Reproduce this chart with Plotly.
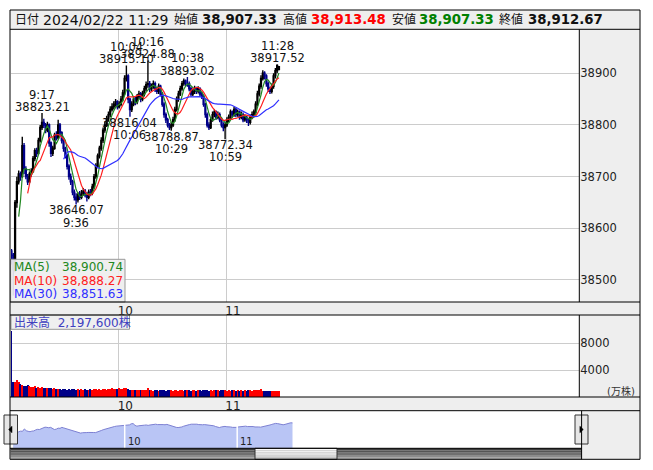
import plotly.graph_objects as go
import pandas as pd

W, H = 653, 470

# ---------------- data ----------------
session_start = "9:00"
n_bars = 150
times = [f"{9 + m // 60}:{m % 60:02d}" for m in range(n_bars)]

opens = [38556, 38548, 38520, 38650, 38690, 38705, 38700, 38760, 38715, 38700,
         38690, 38705, 38710, 38735, 38750, 38745, 38770, 38795, 38805, 38800,
         38790, 38800, 38765, 38745, 38755, 38780, 38775, 38800, 38785, 38770,
         38755, 38740, 38720, 38700, 38690, 38670, 38660, 38655, 38665, 38660,
         38668, 38672, 38665, 38660, 38670, 38668, 38680, 38700, 38720, 38740,
         38755, 38770, 38790, 38800, 38812, 38820, 38830, 38835, 38840, 38845,
         38835, 38840, 38850, 38862, 38890, 38895, 38850, 38830, 38840, 38850,
         38845, 38855, 38860, 38850, 38860, 38870, 38878, 38880, 38870, 38875,
         38880, 38870, 38865, 38875, 38860, 38840, 38820, 38810, 38800, 38795,
         38800, 38810, 38830, 38850, 38860, 38870, 38880, 38885, 38880, 38880,
         38870, 38860, 38865, 38870, 38865, 38870, 38860, 38855, 38840, 38820,
         38800, 38795, 38810, 38820, 38825, 38815, 38820, 38810, 38800, 38795,
         38800, 38810, 38815, 38825, 38820, 38830, 38820, 38825, 38815, 38820,
         38810, 38815, 38810, 38805, 38815, 38820, 38825, 38840, 38860, 38875,
         38890, 38900, 38895, 38880, 38870, 38865, 38875, 38895, 38905, 38907.33]

highs = [38560, 38552, 38655, 38700, 38712, 38710, 38777, 38765, 38720, 38705,
         38710, 38716, 38740, 38755, 38756, 38775, 38800, 38823.21, 38812, 38804,
         38806, 38803, 38768, 38760, 38785, 38788, 38810, 38804, 38788, 38774,
         38758, 38744, 38724, 38706, 38694, 38675, 38668, 38670, 38672, 38674,
         38678, 38676, 38670, 38675, 38676, 38686, 38705, 38726, 38745, 38760,
         38776, 38795, 38806, 38818, 38826, 38836, 38842, 38846, 38850, 38848,
         38846, 38856, 38868, 38896, 38915.10, 38898, 38852, 38846, 38856, 38854,
         38860, 38866, 38864, 38866, 38876, 38884, 38924.88, 38885, 38880, 38886,
         38884, 38874, 38880, 38878, 38864, 38844, 38824, 38814, 38804, 38806,
         38816, 38835, 38855, 38866, 38876, 38885, 38890, 38888, 38893.02, 38884,
         38874, 38870, 38876, 38874, 38875, 38873, 38864, 38858, 38843, 38824,
         38805, 38815, 38826, 38830, 38828, 38826, 38824, 38814, 38805, 38806,
         38815, 38820, 38830, 38828, 38835, 38834, 38830, 38828, 38826, 38824,
         38820, 38818, 38814, 38820, 38826, 38830, 38846, 38866, 38880, 38896,
         38906, 38904, 38898, 38884, 38874, 38880, 38900, 38910, 38917.52, 38913.48]

lows = [38530, 38470, 38515, 38640, 38685, 38692, 38698, 38705, 38695, 38684,
        38688, 38700, 38708, 38730, 38738, 38742, 38766, 38790, 38794, 38784,
        38786, 38758, 38738, 38740, 38752, 38770, 38772, 38778, 38764, 38748,
        38735, 38714, 38694, 38684, 38664, 38654, 38646.07, 38650, 38655, 38656,
        38663, 38660, 38652, 38656, 38662, 38664, 38676, 38696, 38716, 38735,
        38750, 38765, 38785, 38796, 38806, 38815, 38826, 38830, 38835, 38830,
        38832, 38836, 38846, 38858, 38884, 38842, 38816.04, 38825, 38836, 38838,
        38840, 38850, 38844, 38846, 38855, 38865, 38872, 38864, 38865, 38870,
        38864, 38860, 38860, 38855, 38835, 38814, 38804, 38795, 38790, 38788.87,
        38796, 38806, 38826, 38845, 38856, 38866, 38876, 38875, 38874, 38865,
        38855, 38856, 38860, 38860, 38861, 38855, 38850, 38835, 38814, 38795,
        38790, 38792, 38806, 38815, 38810, 38811, 38805, 38795, 38788, 38772.34,
        38796, 38805, 38810, 38814, 38816, 38815, 38816, 38810, 38811, 38805,
        38806, 38804, 38798, 38801, 38811, 38816, 38821, 38836, 38855, 38870,
        38886, 38888, 38874, 38864, 38860, 38861, 38870, 38890, 38900, 38907.33]

closes = [38548, 38520, 38650, 38690, 38705, 38700, 38760, 38715, 38700, 38690,
          38705, 38710, 38735, 38750, 38745, 38770, 38795, 38805, 38800, 38790,
          38800, 38765, 38745, 38755, 38780, 38775, 38800, 38785, 38770, 38755,
          38740, 38720, 38700, 38690, 38670, 38660, 38655, 38665, 38660, 38668,
          38672, 38665, 38660, 38670, 38668, 38680, 38700, 38720, 38740, 38755,
          38770, 38790, 38800, 38812, 38820, 38830, 38835, 38840, 38845, 38835,
          38840, 38850, 38862, 38890, 38895, 38850, 38830, 38840, 38850, 38845,
          38855, 38860, 38850, 38860, 38870, 38878, 38880, 38870, 38875, 38880,
          38870, 38865, 38875, 38860, 38840, 38820, 38810, 38800, 38795, 38800,
          38810, 38830, 38850, 38860, 38870, 38880, 38885, 38880, 38880, 38870,
          38860, 38865, 38870, 38865, 38870, 38860, 38855, 38840, 38820, 38800,
          38795, 38810, 38820, 38825, 38815, 38820, 38810, 38800, 38795, 38800,
          38810, 38815, 38825, 38820, 38830, 38820, 38825, 38815, 38820, 38810,
          38815, 38810, 38805, 38815, 38820, 38825, 38840, 38860, 38875, 38890,
          38900, 38895, 38880, 38870, 38865, 38875, 38895, 38905, 38915, 38912.67]

# volume in 万株
volumes = [9830, 2280, 2280, 2500, 2300, 1900, 1800, 1700, 1600, 1750,
           1600, 1500, 1450, 1600, 1400, 1500, 1350, 1450, 1350, 1300,
           1400, 1300, 1350, 1250, 1300, 1250, 1150, 1200, 1100, 1150,
           1200, 1100, 1150, 1100, 1200, 1150, 1100, 1150, 1100, 1200,
           1100, 1150, 1100, 1100, 1150, 1100, 1200, 1150, 1100, 1150,
           1100, 1200, 1150, 1100, 1150, 1200, 1300, 1250, 1200, 1250,
           1300, 1200, 1250, 1350, 1300, 1200, 1100, 1050, 1000, 1100,
           1050, 1000, 1050, 1100, 1000, 1050, 1350, 1000, 1050, 950,
           1000, 1050, 950, 1000, 1050, 1000, 950, 1000, 1050, 1000,
           950, 1000, 1000, 950, 1050, 1000, 950, 1000, 1050, 1000,
           950, 1000, 1050, 950, 1000, 1000, 950, 1000, 1050, 1000,
           950, 1000, 950, 1000, 1050, 1000, 950, 1000, 1050, 1000,
           950, 1000, 950, 1000, 1050, 950, 1000, 950, 1000, 950,
           1000, 950, 1000, 1050, 950, 1000, 1000, 1050, 1100, 1200,
           950, 900, 950, 900, 850, 900, 950, 900, 850, 830]

header_date = "2024/02/22 11:29"
ma_periods = [5, 10, 30]
ma_last = [38900.74, 38888.27, 38851.63]
last_volume_shares = 2197600
high_marks = [17, 64, 76, 98, 148]   # bars whose high is labelled
low_marks = [36, 66, 89, 119]        # bars whose low is labelled

price_ticks = [38500, 38600, 38700, 38800, 38900]
volume_ticks = [4000, 8000]
hour_ticks = ["10", "11"]

# ---------------- styling helpers ----------------
FONT = "DejaVu Sans, Noto Sans CJK JP"
GRAY = "#eeeeee"
GRID = "#cccccc"
UP = "#000000"
DOWN = "#000088"
MA_COLORS = ["#228822", "#ff2020", "#3030ff"]


def fx(px):
    return px / W


def fy(py):
    return 1 - py / H


def to_min(t):
    h, m = t.split(":")
    return int(h) * 60 + int(m)


t0 = to_min(session_start)
xs = [to_min(t) - t0 + 0.5 for t in times]
hour_vals = [(int(h) * 60) - t0 for h in hour_ticks]

s = pd.Series(closes)
mas = [s.rolling(p).mean() for p in ma_periods]

fig = go.Figure()

fig.add_trace(go.Candlestick(
    x=xs, open=opens, high=highs, low=lows, close=closes,
    increasing=dict(line=dict(color=UP, width=1.4), fillcolor=UP),
    decreasing=dict(line=dict(color=DOWN, width=1.4), fillcolor=DOWN),
    whiskerwidth=0, xaxis="x", yaxis="y", showlegend=False, hoverinfo="skip"))

for p, ma, c in zip(ma_periods, mas, MA_COLORS):
    fig.add_trace(go.Scatter(x=xs, y=ma, mode="lines", line=dict(color=c, width=1.2),
                             xaxis="x", yaxis="y", showlegend=False, hoverinfo="skip"))

vcolors = ["#ff0000" if c >= o else DOWN for o, c in zip(opens, closes)]
fig.add_trace(go.Bar(x=xs, y=volumes, marker=dict(color=vcolors, line=dict(width=0)),
                     width=0.72, xaxis="x2", yaxis="y2", showlegend=False, hoverinfo="skip"))

fig.add_trace(go.Scatter(x=xs, y=closes, mode="lines", fill="tozeroy",
                         fillcolor="#b9c5f5", line=dict(color="#7d80d2", width=1),
                         xaxis="x3", yaxis="y3", showlegend=False, hoverinfo="skip"))

xr = [(11 - 10.6) / 1.795, (579.3 - 10.6) / 1.795]
common_x = dict(range=xr, tickvals=hour_vals, ticktext=hour_ticks, showgrid=True,
                gridcolor=GRID, gridwidth=1, zeroline=False, showline=False, ticks="",
                tickfont=dict(family=FONT, size=12, color="#222"), ticklabelshift=7,
                fixedrange=True)

shapes = []


def rect(x0, y0, x1, y1, fill=None, line=None, width=1, layer="below"):
    shapes.append(dict(type="rect", xref="paper", yref="paper",
                       x0=fx(x0), x1=fx(x1), y0=fy(y1), y1=fy(y0),
                       fillcolor=fill if fill else "rgba(0,0,0,0)",
                       line=dict(color=line if line else "rgba(0,0,0,0)", width=width if line else 0),
                       layer=layer))


def hline(y, x0, x1, color="#000", width=1):
    shapes.append(dict(type="line", xref="paper", yref="paper", x0=fx(x0), x1=fx(x1),
                       y0=fy(y), y1=fy(y), line=dict(color=color, width=width), layer="above"))


def vline(x, y0, y1, color="#000", width=1):
    shapes.append(dict(type="line", xref="paper", yref="paper", x0=fx(x), x1=fx(x),
                       y0=fy(y0), y1=fy(y1), line=dict(color=color, width=width), layer="above"))


# gray panels
rect(10, 10, 640, 29.3, GRAY)
rect(579.3, 29.3, 640, 302, GRAY)
rect(10, 302, 640, 315, GRAY)
rect(579.3, 315, 640, 397, GRAY)
rect(10, 397, 640, 410.7, GRAY)
rect(581.6, 410.7, 640, 459.3, GRAY)

# scrollbar
bands = ["#3c3c3c", "#555555", "#707070", "#8c8c8c", "#a8a8a8"]
bh = (459.3 - 448.3) / len(bands)
for k, c in enumerate(bands):
    rect(10.5, 448.3 + k * bh, 581.6, 448.3 + (k + 1) * bh, c)
thumb = ["#fafafa", "#efefef", "#e2e2e2", "#d4d4d4", "#c6c6c6"]
for k, c in enumerate(thumb):
    rect(255, 448.3 + k * bh, 337, 448.3 + (k + 1) * bh, c)
rect(255, 448.3, 337, 459.3, None, "#333", 1, "above")

# overlay boxes
rect(10.6, 259.3, 125, 302, "rgba(238,238,238,0.92)", "#999999", 1, "above")
rect(11, 315, 129.5, 329.3, "rgba(238,238,238,0.92)", "#999999", 1, "above")

# nav buttons
rect(4, 415, 17.5, 444, "#e6e6e6", "#333333", 1, "above")
rect(575, 415, 588, 444, "#e6e6e6", "#333333", 1, "above")


def tri(pts):
    d = "M " + " L ".join(f"{fx(a):.5f},{fy(b):.5f}" for a, b in pts) + " Z"
    shapes.append(dict(type="path", xref="paper", yref="paper", path=d,
                       fillcolor="#000", line=dict(color="#000", width=0.5), layer="above"))


tri([(8.6, 429.5), (12, 426.2), (12, 432.8)])
tri([(583.3, 429.5), (579.9, 426.2), (579.9, 432.8)])

# nav separators at the hours
for hv in hour_vals:
    shapes.append(dict(type="line", xref="x3", yref="y3", x0=hv, x1=hv, y0=38272, y1=39220,
                       line=dict(color="white", width=1.5), layer="above"))

# frame lines
hline(29.3, 10, 640)
hline(302, 10, 640)
hline(315, 10, 640)
hline(397, 10, 640)
hline(410.7, 10, 640)
hline(448.3, 10, 581.6)
vline(579.3, 29.3, 302)
vline(579.3, 315, 397)
vline(581.6, 410.7, 459.3)
rect(10, 10, 640, 459.3, None, "#000000", 1, "above")

ann = []


def text(x, y, t, size=12, color="#111", xanchor="left", yanchor="middle", bold=False,
         xref="paper", **kw):
    ann.append(dict(x=fx(x) if xref == "paper" else x, y=fy(y), xref=xref, yref="paper",
                    text=f"<b>{t}</b>" if bold else t, showarrow=False,
                    xanchor=xanchor, yanchor=yanchor,
                    font=dict(family=FONT, size=size, color=color), **kw))


# header
hy = 19.7
text(12.5, hy, "日付", 12)
text(41, hy, header_date, 14)
text(171.5, hy, "始値", 12)
text(200, hy, f"{opens[-1]:,.2f}", 13.3, bold=True)
text(280.5, hy, "高値", 12)
text(309, hy, f"{highs[-1]:,.2f}", 13.3, "#ff0000", bold=True)
text(389.5, hy, "安値", 12)
text(417, hy, f"{lows[-1]:,.2f}", 13.3, "#008000", bold=True)
text(497, hy, "終値", 12)
text(525.5, hy, f"{closes[-1]:,.2f}", 13.3, bold=True)

# MA legend
for k, (p, v, c) in enumerate(zip(ma_periods, ma_last, MA_COLORS)):
    yy = 266.7 + k * 13.8
    text(11.5, yy, f"MA({p})", 12, c)
    text(124.5, yy, f"{v:,.2f}", 12, c, xanchor="right")

# volume label
text(12, 322.3, f"出来高  {last_volume_shares:,}株", 12, "#4040c0")
text(637, 390.5, "(万株)", 10, "#333", xanchor="right")

# nav hour labels
for hv, hl in zip(hour_vals, hour_ticks):
    ann.append(dict(x=hv, y=fy(441), xref="x3", yref="paper", text=hl, showarrow=False,
                    xanchor="left", yanchor="middle", xshift=1,
                    font=dict(family=FONT, size=10, color="#222")))

# high / low labels
for i in high_marks:
    for txt, sh in [(f"{highs[i]:.2f}", 6.2), (times[i], 18.4)]:
        ann.append(dict(x=xs[i], y=highs[i], xref="x", yref="y", text=txt, showarrow=False,
                        xanchor="center", yanchor="middle", yshift=sh,
                        font=dict(family=FONT, size=11.5, color="#111")))
for i in low_marks:
    for txt, sh in [(f"{lows[i]:.2f}", -6.0), (times[i], -18.2)]:
        ann.append(dict(x=xs[i], y=lows[i], xref="x", yref="y", text=txt, showarrow=False,
                        xanchor="center", yanchor="middle", yshift=sh,
                        font=dict(family=FONT, size=11.5, color="#111")))

fig.update_layout(
    width=W, height=H, margin=dict(l=0, r=0, t=0, b=0),
    paper_bgcolor="white", plot_bgcolor="white", showlegend=False,
    xaxis=dict(domain=[fx(11), fx(579.3)], anchor="y", rangeslider=dict(visible=False), **common_x),
    yaxis=dict(domain=[fy(302), fy(29.3)], anchor="x", range=[38457.4, 38985.1], side="right",
               tickvals=price_ticks, ticktext=[str(v) for v in price_ticks],
               showgrid=True, gridcolor=GRID, zeroline=False, ticks="",
               tickfont=dict(family=FONT, size=11.5, color="#222"), fixedrange=True),
    xaxis2=dict(domain=[fx(11), fx(579.3)], anchor="y2", **common_x),
    yaxis2=dict(domain=[fy(397), fy(315)], anchor="x2", range=[0, 12216], side="right",
                tickvals=volume_ticks, ticktext=[str(v) for v in volume_ticks],
                showgrid=True, gridcolor=GRID, zeroline=False, ticks="",
                tickfont=dict(family=FONT, size=11.5, color="#222"), fixedrange=True),
    xaxis3=dict(domain=[fx(10.5), fx(581.6)], anchor="y3", range=[-0.91, 303.7], visible=False,
                fixedrange=True),
    yaxis3=dict(domain=[fy(448.3), fy(410.7)], anchor="x3", range=[38272, 39220], visible=False,
                fixedrange=True),
    shapes=shapes, annotations=ann, bargap=0,
)

fig.write_html("out.html", config={"displayModeBar": False},
               post_script="document.body.style.margin='0';document.body.style.overflow='hidden';")
